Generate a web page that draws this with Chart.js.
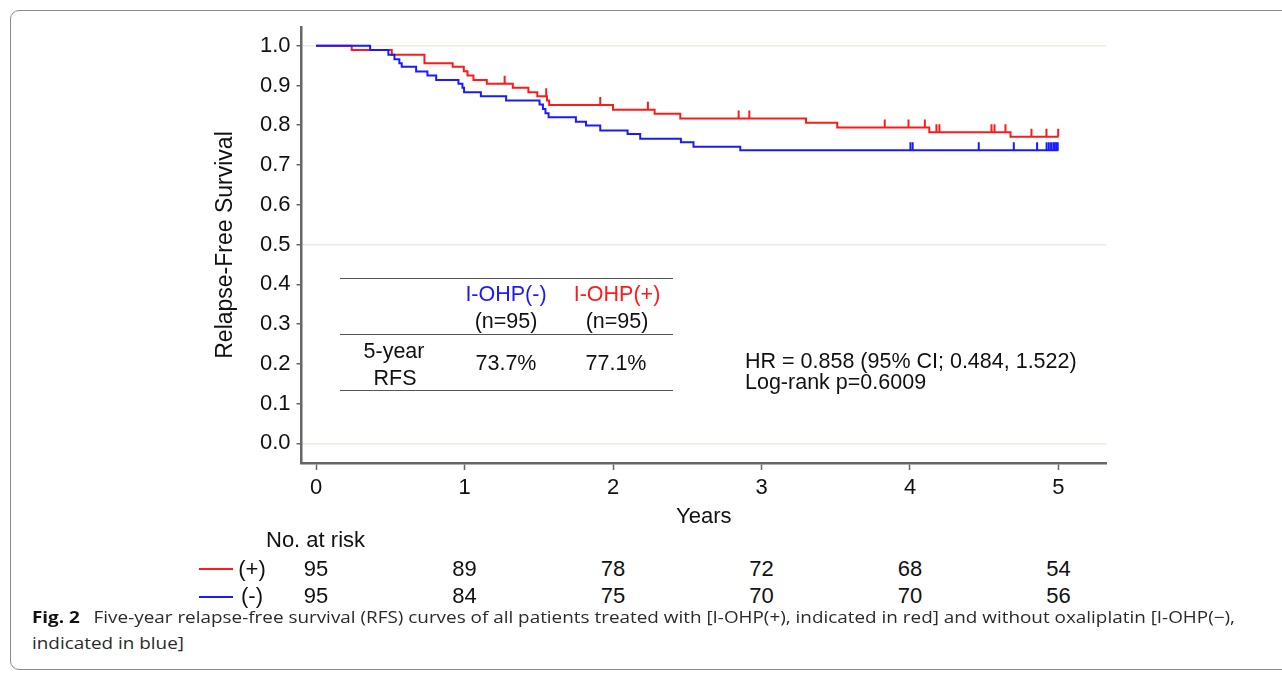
<!DOCTYPE html>
<html>
<head>
<meta charset="utf-8">
<script src="https://cdn.jsdelivr.net/npm/chart.js@4.4.1/dist/chart.umd.min.js"></script>
<style>
  html, body { margin:0; padding:0; background:#fff; }
  body { width:1282px; height:674px; position:relative; overflow:hidden; font-family:'Liberation Sans', Arial, sans-serif; color:#111; }
  .frame { position:absolute; left:10px; top:10px; width:1300px; height:658px; border:1.5px solid #8a8a8a; border-radius:9px; }
  #wrap { position:absolute; left:0; top:0; width:1282px; height:530px; }
  .t { position:absolute; white-space:nowrap; font-size:21.5px; line-height:1; }
  .r { font-size:22px; }
  .c { transform:translate(-50%, -50%); }
  .l { transform:translate(0, -50%); }
  .hl { position:absolute; height:0; border-top:1.5px solid #555; }
  .key { position:absolute; height:0; width:34px; border-top:2px solid; }
  .cap { position:absolute; left:32px; font-family:'Open Sans','Noto Sans',sans-serif; font-size:16.5px; color:#2a2a2a; white-space:nowrap; transform-origin:0 50%; line-height:1; }
  .cap b { color:#111; margin-right:12px; }
</style>
</head>
<body>
<div class="frame"></div>
<div id="wrap"><canvas id="km"></canvas></div>

<!-- table inside the plot -->
<div class="hl" style="left:340px;top:278px;width:333px"></div>
<div class="hl" style="left:340px;top:334px;width:333px"></div>
<div class="hl" style="left:340px;top:390px;width:333px"></div>
<div class="t c" style="left:506px;top:295px;color:#1a1aff">I-OHP(-)</div>
<div class="t c" style="left:617px;top:295px;color:#ff1a1a">I-OHP(+)</div>
<div class="t c" style="left:506px;top:322px">(n=95)</div>
<div class="t c" style="left:617px;top:322px">(n=95)</div>
<div class="t c" style="left:394px;top:352px">5-year</div>
<div class="t c" style="left:395px;top:379px">RFS</div>
<div class="t c" style="left:506px;top:364px">73.7%</div>
<div class="t c" style="left:616px;top:364px">77.1%</div>
<div class="t l" style="left:745px;top:362px">HR = 0.858 (95% CI; 0.484, 1.522)</div>
<div class="t l" style="left:745px;top:383px">Log-rank p=0.6009</div>

<!-- numbers at risk -->
<div class="t l r" style="left:266px;top:540px">No. at risk</div>
<div class="key" style="left:199px;top:568px;border-color:#ff1a1a"></div>
<div class="t c r" style="left:252px;top:569px">(+)</div>
<div class="key" style="left:199px;top:596px;border-color:#1a1aff"></div>
<div class="t c r" style="left:252px;top:596px">(-)</div>
<div id="risk"></div>

<div class="cap" id="cap1" style="top:617px"><b>Fig. 2</b>Five-year relapse-free survival (RFS) curves of all patients treated with [I-OHP(+), indicated in red] and without oxaliplatin [I-OHP(&minus;),</div>
<div class="cap" id="cap2" style="top:643px">indicated in blue]</div>

<script>
'use strict';

// ── axis ticks
const years  = [0, 1, 2, 3, 4, 5];
const yTicks = [0, 0.1, 0.2, 0.3, 0.4, 0.5, 0.6, 0.7, 0.8, 0.9, 1.0];
const gridAt = [0, 0.5, 1.0];

// ── I-OHP(+) (red): event times / survival after each step
const plusT = [0, 0.24, 0.51, 0.73, 0.92, 0.995, 1.02, 1.06, 1.15, 1.325, 1.43, 1.49, 1.555, 1.57, 2.0, 2.28, 2.453, 3.30, 3.51, 4.13, 4.677, 5.0];
const plusS = [1.0, 0.989, 0.977, 0.956, 0.947, 0.936, 0.925, 0.914, 0.904, 0.894, 0.883, 0.873, 0.862, 0.851, 0.839, 0.829, 0.817, 0.806, 0.794, 0.782, 0.771, 0.771];
// censored marks
const plusCensT = [1.27, 1.55, 1.914, 2.235, 2.846, 2.918, 3.83, 3.99, 4.10, 4.178, 4.198, 4.549, 4.569, 4.643, 4.818, 4.919, 4.998];
const plusCensS = [0.904, 0.873, 0.851, 0.839, 0.817, 0.817, 0.794, 0.794, 0.794, 0.782, 0.782, 0.782, 0.782, 0.782, 0.771, 0.771, 0.771];

// ── I-OHP(-) (blue)
const minusT = [0, 0.364, 0.487, 0.528, 0.561, 0.577, 0.674, 0.75, 0.809, 0.959, 0.986, 0.997, 1.11, 1.28, 1.505, 1.528, 1.545, 1.566, 1.75, 1.818, 1.914, 2.098, 2.183, 2.457, 2.542, 2.857, 5.0];
const minusS = [1.0, 0.989, 0.977, 0.966, 0.956, 0.947, 0.935, 0.925, 0.914, 0.904, 0.894, 0.883, 0.873, 0.862, 0.852, 0.841, 0.830, 0.820, 0.809, 0.799, 0.787, 0.778, 0.766, 0.757, 0.746, 0.737, 0.737];
const minusCensT = [4.003, 4.018, 4.463, 4.699, 4.856, 4.92, 4.935, 4.95, 4.965, 4.975, 4.985, 4.995];
const minusCensS = [0.737, 0.737, 0.737, 0.737, 0.737, 0.737, 0.737, 0.737, 0.737, 0.737, 0.737, 0.737];

// ── numbers at risk
const atRiskPlus  = [95, 89, 78, 72, 68, 54];
const atRiskMinus = [95, 84, 75, 70, 70, 56];

const RED  = '#ff1a1a';
const BLUE = '#1a1aff';
const AXIS = '#666';

const pts = (xs, ys) => xs.map((x, i) => ({ x, y: ys[i] }));

Chart.defaults.font.family = "'Liberation Sans', Arial, sans-serif";
Chart.defaults.color = '#111';

function curve(t, s, col) {
  return { type:'line', data:pts(t, s), borderColor:col, borderWidth:2, stepped:'before', pointRadius:0, fill:false };
}
function cens(t, s, col) {
  return { type:'scatter', data:pts(t, s), pointStyle:'dash', pointRotation:-90, pointRadius:8,
           pointBorderColor:col, pointBorderWidth:2, pointBackgroundColor:col };
}

const chart = new Chart(document.getElementById('km'), {
  type:'line',
  data:{ datasets:[
    curve(minusT, minusS, BLUE),
    cens(minusCensT, minusCensS, BLUE),
    curve(plusT, plusS, RED),
    cens(plusCensT, plusCensS, RED),
  ]},
  options:{
    responsive:true, maintainAspectRatio:false, animation:false,
    layout:{ padding:{ left:212, top:27, right:176, bottom:0 } },
    plugins:{ legend:{ display:false }, tooltip:{ enabled:false } },
    scales:{
      x:{
        type:'linear', min:-0.098, max:5.32,
        afterBuildTicks: s => { s.ticks = years.map(v => ({ value:v })); },
        afterFit: s => { s.height = 67; },
        ticks:{ font:{ size:22 }, padding:5, maxRotation:0, callback: v => String(v) },
        grid:{ drawOnChartArea:false, tickLength:7, tickColor:AXIS, tickWidth:1.5 },
        border:{ color:AXIS, width:2.5 },
        title:{ display:true, text:'Years', font:{ size:22 }, padding:{ top:0, bottom:0 } },
      },
      y:{
        type:'linear', min:-0.0495, max:1.047,
        afterBuildTicks: s => { s.ticks = yTicks.map(v => ({ value:v })); },
        afterFit: s => { s.width = 89.5; },
        ticks:{ font:{ size:22 }, padding:6, callback: v => v.toFixed(1) },
        grid:{
          color: c => gridAt.some(g => Math.abs(g - c.tick.value) < 1e-6) ? '#eeeadf' : 'rgba(0,0,0,0)',
          lineWidth:1.5, tickLength:5, tickColor:AXIS, tickWidth:1.5,
        },
        border:{ color:AXIS, width:2.5 },
        title:{ display:true, text:'Relapse-Free Survival', font:{ size:23 }, padding:{ top:0, bottom:0 } },
      },
    },
  },
});

// numbers at risk under each year tick
const riskEl = document.getElementById('risk');
const xs = chart.scales.x;
years.forEach((yr, i) => {
  const px = xs.getPixelForValue(yr);
  [[atRiskPlus[i], 569], [atRiskMinus[i], 596]].forEach(([n, top]) => {
    const d = document.createElement('div');
    d.className = 't c r';
    d.style.left = px + 'px';
    d.style.top = top + 'px';
    d.textContent = n;
    riskEl.appendChild(d);
  });
});

// caption: squeeze to the reference line width
const cap1 = document.getElementById('cap1');
const cap2 = document.getElementById('cap2');
const k = 1203 / cap1.getBoundingClientRect().width;
[cap1, cap2].forEach(el => { el.style.transform = 'translateY(-50%) scaleX(' + k.toFixed(4) + ')'; });
</script>
</body>
</html>
